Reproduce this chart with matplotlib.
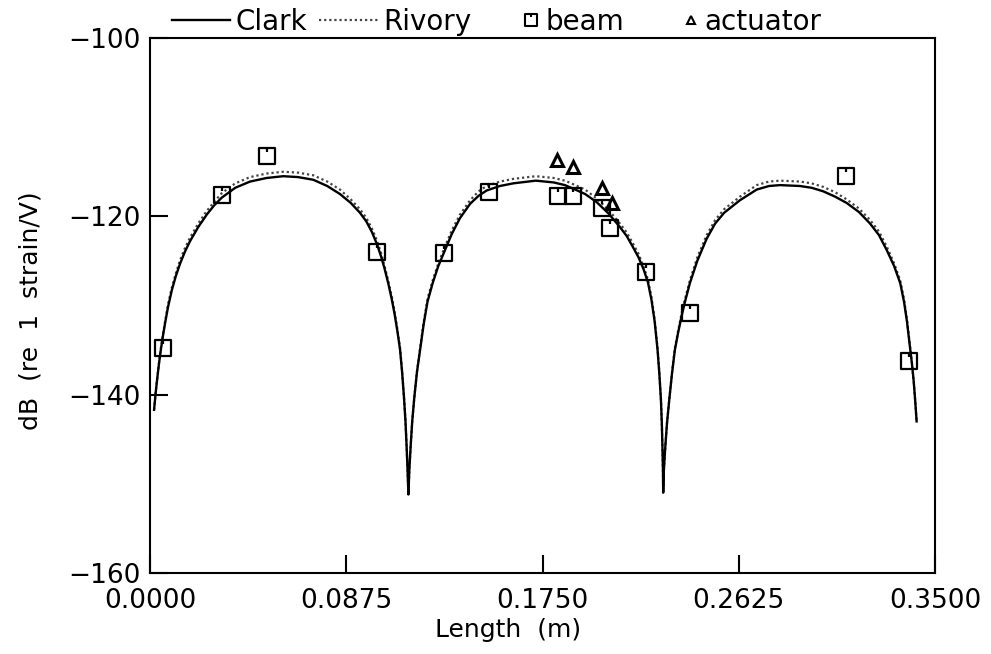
#recreation of the Clark / Rivory strain response plot
#curves and measured points read off the scanned figure

import matplotlib
matplotlib.use('Agg')
import matplotlib.pyplot as plt
from matplotlib.lines import Line2D
from matplotlib.path import Path

# curve abscissa (m), shared by both model curves
length_m = [0.0018, 0.0025, 0.0033, 0.0040, 0.0048, 0.0057, 0.0067, 0.0080, 0.0097, 0.0115,
            0.0134, 0.0155, 0.0178, 0.0215, 0.0253, 0.0285, 0.0320, 0.0380, 0.0446, 0.0520,
            0.0594, 0.0660, 0.0728, 0.0790, 0.0847, 0.0895, 0.0936, 0.0965, 0.0990, 0.1013,
            0.1030, 0.1045, 0.1062, 0.1077, 0.1090, 0.1103, 0.1115, 0.1124, 0.1132, 0.1139,
            0.1144, 0.1148, 0.1152,
            0.1156, 0.1162, 0.1169, 0.1178, 0.1190, 0.1204, 0.1220, 0.1237, 0.1260, 0.1285,
            0.1315, 0.1345, 0.1382, 0.1427, 0.1465, 0.1501, 0.1560, 0.1620, 0.1720, 0.1800,
            0.1850, 0.1887, 0.1940, 0.1991, 0.2045, 0.2095, 0.2125, 0.2150, 0.2178, 0.2200,
            0.2220, 0.2236, 0.2250, 0.2263, 0.2271, 0.2278, 0.2282, 0.2285, 0.2287, 0.2288,
            0.2291, 0.2297, 0.2305, 0.2315, 0.2327, 0.2340, 0.2355, 0.2370, 0.2385, 0.2407,
            0.2440, 0.2482, 0.2520, 0.2560, 0.2630, 0.2705, 0.2760, 0.2809, 0.2898, 0.2950,
            0.3002, 0.3055, 0.3106, 0.3160, 0.3210, 0.3250, 0.3285, 0.3318, 0.3345, 0.3362,
            0.3375, 0.3388, 0.3397, 0.3405, 0.3412, 0.3418]

clark_db = [-141.7, -139.8, -138.0, -136.5, -135.0, -133.5, -132.0, -130.2, -128.3, -126.7,
            -125.3, -124.0, -122.8, -121.2, -119.8, -118.8, -117.9, -116.8, -116.1, -115.7,
            -115.5, -115.6, -115.9, -116.6, -117.5, -118.5, -119.6, -120.6, -121.8, -123.2,
            -124.5, -125.8, -127.5, -129.2, -130.9, -132.9, -135.0, -137.5, -140.2, -143.0,
            -145.8, -148.3, -151.2,
            -148.5, -145.8, -143.0, -140.4, -137.5, -135.0, -132.1, -129.6, -127.5, -125.6,
            -123.8, -122.0, -120.2, -118.6, -117.7, -117.1, -116.6, -116.3, -116.0, -116.2,
            -116.5, -116.9, -117.5, -118.4, -119.7, -121.2, -122.2, -123.3, -124.6, -125.9,
            -127.4, -129.4, -131.8, -135.0, -137.7, -140.6, -143.3, -146.2, -148.5, -151.0,
            -148.5, -146.0, -143.2, -140.6, -137.7, -135.0, -133.0, -131.2, -129.6, -127.5,
            -125.0, -122.5, -120.8, -119.6, -118.2, -117.0, -116.6, -116.5, -116.6, -116.8,
            -117.2, -117.8, -118.5, -119.5, -120.8, -122.1, -123.8, -125.6, -127.5, -129.6,
            -131.8, -134.6, -136.5, -138.5, -140.8, -143.0]

rivory_db = [-141.7, -139.8, -138.0, -136.4, -134.8, -133.3, -131.8, -129.9, -128.0, -126.4,
             -124.9, -123.6, -122.4, -120.8, -119.4, -118.4, -117.4, -116.3, -115.6, -115.2,
             -115.0, -115.1, -115.4, -116.1, -117.0, -118.1, -119.2, -120.2, -121.4, -122.8,
             -124.1, -125.5, -127.2, -128.9, -130.6, -132.7, -134.8, -137.4, -140.2, -143.0,
             -145.8, -148.3, -151.2,
             -148.5, -145.8, -143.0, -140.4, -137.4, -134.8, -131.9, -129.3, -127.2, -125.3,
             -123.4, -121.6, -119.8, -118.2, -117.2, -116.6, -116.1, -115.8, -115.5, -115.7,
             -116.0, -116.4, -117.0, -118.0, -119.3, -120.8, -121.8, -122.9, -124.2, -125.6,
             -127.1, -129.1, -131.6, -134.8, -137.6, -140.6, -143.3, -146.2, -148.5, -151.0,
             -148.5, -146.0, -143.2, -140.6, -137.6, -134.8, -132.8, -130.9, -129.3, -127.2,
             -124.6, -122.1, -120.4, -119.2, -117.8, -116.5, -116.1, -116.0, -116.1, -116.3,
             -116.7, -117.3, -118.1, -119.1, -120.4, -121.7, -123.4, -125.3, -127.2, -129.3,
             -131.6, -134.4, -136.4, -138.5, -140.8, -143.0]

# measured points
beam_x = [0.0057, 0.0323, 0.0521, 0.1012, 0.1311, 0.1511, 0.1820, 0.1884, 0.2013, 0.2051,
          0.2211, 0.2407, 0.3103, 0.3386]
beam_db = [-134.8, -117.6, -113.2, -124.0, -124.1, -117.3, -117.7, -117.7, -119.1, -121.3,
           -126.2, -130.8, -115.5, -136.2]

act_x = [0.1813, 0.1884, 0.2013, 0.2058]
act_db = [-113.7, -114.5, -116.8, -118.5]

x_ticks = [0.0, 0.0875, 0.175, 0.2625, 0.35]
y_ticks = [-160, -140, -120, -100]

# square with a little tick hanging from the top edge
beam_marker = Path([(-1, -1), (1, -1), (1, 1), (-1, 1), (-1, -1), (0, 1), (0, 0.45)],
                   [Path.MOVETO, Path.LINETO, Path.LINETO, Path.LINETO, Path.CLOSEPOLY,
                    Path.MOVETO, Path.LINETO])

plt.rcParams['font.family'] = 'DejaVu Sans'

fig = plt.figure(figsize=(9.91, 6.54), dpi=100)
ax = fig.add_axes([0.1514, 0.1239, 0.7921, 0.818])

ax.plot(length_m, rivory_db, color='#444444', lw=1.6, ls=(0, (1, 1.3)))
ax.plot(length_m, clark_db, color='black', lw=1.7)

ax.plot(beam_x, beam_db, ls='none', marker=beam_marker, ms=12, mfc='none',
        mec='black', mew=1.6)
ax.plot(act_x, act_db, ls='none', marker='^', ms=9, mfc='none', mec='black', mew=2.2)

ax.set_xlim(0, 0.35)
ax.set_ylim(-160, -100)
ax.set_xticks(x_ticks)
ax.set_xticklabels(['%.4f' % v for v in x_ticks])
ax.set_yticks(y_ticks)

for s in ['left', 'bottom', 'top', 'right']:
    ax.spines[s].set_linewidth(1.5)
ax.tick_params(axis='both', direction='in', length=13, width=1.5, labelsize=19,
               top=False, right=False)
ax.tick_params(axis='x', pad=11)
ax.tick_params(axis='y', pad=7)

ax.set_xlabel('Length  (m)', fontsize=18)
ax.xaxis.set_label_coords(0.456, -0.085)
ax.set_ylabel('dB  (re  1  strain/V)', fontsize=18)
ax.yaxis.set_label_coords(-0.137, 0.49)

# legend above the frame, split in two so the spacing follows the original
line_handles = [Line2D([], [], color='black', lw=1.7),
                Line2D([], [], color='#444444', lw=1.6, ls=(0, (1, 1.3)))]
leg1 = ax.legend(line_handles, ['Clark', 'Rivory'], ncol=2, frameon=False,
                 loc='center left', bbox_to_anchor=(172 / 991, 1 - 22 / 654),
                 bbox_transform=fig.transFigure, borderpad=0, borderaxespad=0,
                 fontsize=20, handlelength=2.1, handletextpad=0.2, columnspacing=0.43)
ax.add_artist(leg1)

mark_handles = [Line2D([], [], ls='none', marker=beam_marker, ms=9, mfc='none',
                       mec='black', mew=1.5),
                Line2D([], [], ls='none', marker='^', ms=6, mfc='none', mec='black', mew=1.5)]
ax.legend(mark_handles, ['beam', 'actuator'], ncol=2, frameon=False,
          loc='center left', bbox_to_anchor=(523 / 991, 1 - 22 / 654),
          bbox_transform=fig.transFigure, borderpad=0, borderaxespad=0,
          fontsize=20, handlelength=0.6, handletextpad=0.2, columnspacing=2.1)

fig.savefig('out.png', dpi=100)
